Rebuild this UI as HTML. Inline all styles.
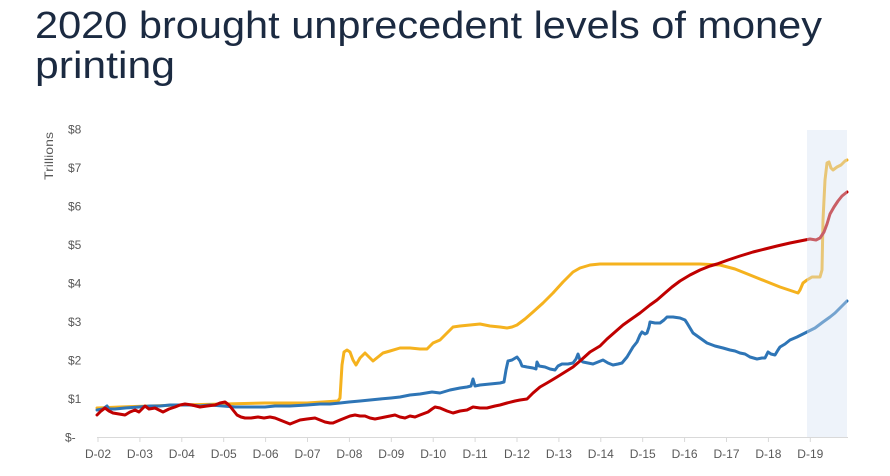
<!DOCTYPE html>
<html><head><meta charset="utf-8"><style>
html,body{margin:0;padding:0;background:#fff;width:890px;height:476px;overflow:hidden}
svg{display:block}
</style></head><body>
<svg width="890" height="476" viewBox="0 0 890 476" xmlns="http://www.w3.org/2000/svg">
<rect width="890" height="476" fill="#fff"/>
<g font-family="Liberation Sans, sans-serif" fill="#1b2a41">
<text x="35" y="38" font-size="38" textLength="787" lengthAdjust="spacingAndGlyphs">2020 brought unprecedent levels of money</text>
<text x="35" y="78" font-size="38" textLength="140" lengthAdjust="spacingAndGlyphs">printing</text>
</g>
<text transform="translate(53,156) rotate(-90)" text-anchor="middle" font-family="Liberation Sans, sans-serif" font-size="12" fill="#595959" textLength="48" lengthAdjust="spacingAndGlyphs">Trillions</text>
<g font-family="Liberation Sans, sans-serif" font-size="12" fill="#595959">
<text x="68" y="133.5">$8</text>
<text x="68" y="172">$7</text>
<text x="68" y="210.5">$6</text>
<text x="68" y="249">$5</text>
<text x="68" y="287.5">$4</text>
<text x="68" y="326">$3</text>
<text x="68" y="364.5">$2</text>
<text x="68" y="403">$1</text>
<text x="65" y="441.5">$-</text>
</g>
<line x1="97" y1="437.5" x2="848" y2="437.5" stroke="#d9d9d9" stroke-width="1"/>
<g stroke="#d9d9d9" stroke-width="1">
<line x1="98" y1="437" x2="98" y2="442"/><line x1="139.9" y1="437" x2="139.9" y2="442"/><line x1="181.8" y1="437" x2="181.8" y2="442"/><line x1="223.7" y1="437" x2="223.7" y2="442"/><line x1="265.6" y1="437" x2="265.6" y2="442"/><line x1="307.5" y1="437" x2="307.5" y2="442"/><line x1="349.4" y1="437" x2="349.4" y2="442"/><line x1="391.3" y1="437" x2="391.3" y2="442"/><line x1="433.2" y1="437" x2="433.2" y2="442"/><line x1="475.1" y1="437" x2="475.1" y2="442"/><line x1="517" y1="437" x2="517" y2="442"/><line x1="558.9" y1="437" x2="558.9" y2="442"/><line x1="600.8" y1="437" x2="600.8" y2="442"/><line x1="642.7" y1="437" x2="642.7" y2="442"/><line x1="684.6" y1="437" x2="684.6" y2="442"/><line x1="726.5" y1="437" x2="726.5" y2="442"/><line x1="768.4" y1="437" x2="768.4" y2="442"/><line x1="810.3" y1="437" x2="810.3" y2="442"/>
</g>
<g font-family="Liberation Sans, sans-serif" font-size="12" fill="#595959" text-anchor="middle">
<text x="98" y="458">D-02</text><text x="139.9" y="458">D-03</text><text x="181.8" y="458">D-04</text><text x="223.7" y="458">D-05</text><text x="265.6" y="458">D-06</text><text x="307.5" y="458">D-07</text><text x="349.4" y="458">D-08</text><text x="391.3" y="458">D-09</text><text x="433.2" y="458">D-10</text><text x="475.1" y="458">D-11</text><text x="517" y="458">D-12</text><text x="558.9" y="458">D-13</text><text x="600.8" y="458">D-14</text><text x="642.7" y="458">D-15</text><text x="684.6" y="458">D-16</text><text x="726.5" y="458">D-17</text><text x="768.4" y="458">D-18</text><text x="810.3" y="458">D-19</text>
</g>
<g fill="none" stroke-width="3" stroke-linejoin="round" stroke-linecap="round">
<polyline stroke="#f5b21e" points="97,408 120,407 150,406 181,405 223,404 265,403 307,403 338,401 340,398 342,365 344,352 347,350 350,352 353,360 356,365 360,358 365,353 369,357 373,361 378,357 383,353 390,351 400,348 410,348 420,349 427,349 433,343 440,340 447,333 453,327 460,326 470,325 480,324 490,326 500,327 507,328 512,327 517,325 525,319 533,312 543,303 553,293 563,282 573,272 580,268 590,265 600,264 620,264 660,264 700,264 720,265 735,269 750,275 765,281 780,287 798,293 800,290 803,283 807,280 812,277 820,277 822,270 823,220 825,180 827,163 829,162 831,168 833,170 837,167 841,165 845,161 847,160"/>
<polyline stroke="#2e75b6" points="97,410 103,409 107,406 109,409 115,409 125,408 139,407 150,406 160,406 170,405 181,405 190,405 200,406 210,405 223,406 235,407 250,407 265,407 275,406 290,406 307,405 320,404 330,404 340,403 349,402 360,401 370,400 380,399 391,398 400,397 410,395 420,394 432,392 440,393 450,390 460,388 467,387 471,386 473,379 475,386 480,385 490,384 500,383 504,382 506,370 508,361 512,360 517,357 520,361 522,366 527,367 533,368 536,369 537,362 539,366 545,367 550,369 555,370 558,366 562,364 568,364 573,363 576,359 578,354 580,360 583,362 588,363 593,364 598,362 603,360 608,363 613,365 618,364 622,363 627,357 633,347 637,342 640,335 642,332 645,334 647,333 649,327 650,322 655,323 660,323 664,320 667,317 673,317 680,318 685,320 687,323 690,328 693,333 700,338 707,343 715,346 723,348 730,350 735,351 740,353 745,354 750,357 757,359 762,358 765,358 768,352 771,354 775,355 778,350 780,347 785,344 790,340 797,337 807,332 815,328 823,322 830,317 835,313 840,308 844,304 847,301"/>
<polyline stroke="#c00000" points="97,415 101,411 105,408 109,411 113,413 119,414 125,415 130,412 135,410 139,412 143,408 145,406 149,409 155,408 159,410 163,412 169,409 175,407 180,405 185,404 192,405 200,407 207,406 215,405 220,403 225,402 229,405 233,410 237,415 241,417 245,418 251,418 258,417 264,418 270,417 275,418 280,420 285,422 290,424 295,422 300,420 307,419 315,418 320,420 325,422 330,423 333,423 340,420 345,418 350,416 355,415 360,416 365,416 370,418 375,419 380,418 385,417 390,416 395,415 400,417 405,418 410,416 415,417 420,415 428,412 432,409 435,407 440,408 447,411 453,413 460,411 467,410 473,407 480,408 487,408 495,406 500,405 507,403 515,401 520,400 527,399 533,393 540,387 547,383 557,377 565,372 573,367 580,361 590,352 600,346 607,339 615,332 623,325 630,320 640,313 650,305 657,300 665,293 672,287 680,281 690,275 700,270 710,266 717,264 728,260 740,256 753,252 765,249 777,246 790,243 800,241 810,239 816,240 820,238 824,232 827,224 830,214 834,207 838,201 842,196 847,192"/>
</g>
<rect x="807" y="130" width="40" height="307" fill="#d6e2f2" fill-opacity="0.42"/>
</svg>
</body></html>
